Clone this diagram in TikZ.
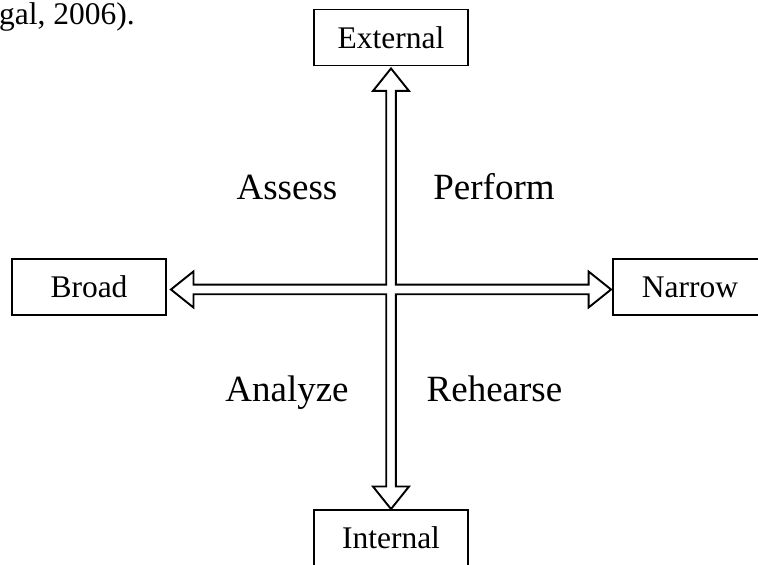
\documentclass[tikz,border=0pt]{standalone}
\usepackage{fontspec}
\setmainfont{Liberation Serif}
\usetikzlibrary{calc}
\begin{document}
\begin{tikzpicture}[x=1pt,y=1pt,
  box/.style={draw, line width=1.9pt, minimum width=154pt, minimum height=56pt,
              inner sep=0pt, font=\fontsize{31.5}{36}\selectfont},
  quad/.style={anchor=base, inner sep=0pt, font=\fontsize{37}{42}\selectfont},
  cross/.style={draw, line width=1.9pt, line join=miter, fill=white}]
  \useasboundingbox (0,0) rectangle (758,565);

  % leftover end of the preceding sentence
  \node[anchor=base west, inner sep=0pt, font=\fontsize{31.5}{36}\selectfont]
    (cite) at (-1,540) {gal, 2006).};

  % the four poles
  \node[box] (ext)    at (391,527.5) {External};
  \node[box] (broad)  at (89,278)    {Broad};
  \node[box] (narrow) at (690,278)   {Narrow};
  \node[box] (int)    at (391,27)    {Internal};

  % centre of the cross and the four arrow tips
  \coordinate (c) at (391,275.5);
  \coordinate (tN) at ($(ext.south)+(0,-2)$);
  \coordinate (tS) at (int.north);
  \coordinate (tW) at ($(broad.east)+(4,-2.5)$);
  \coordinate (tE) at ($(narrow.west)+(-1,-2.5)$);

  % hollow four-way arrow, drawn as one outline
  \draw[cross] (tN) -- ++(18,-22.5) -- ++(-13.2,0)
    -- ($(c)+(4.8,4.8)$) -- ($(tE)+(-22.5,4.8)$) -- ++(0,13.2) -- (tE)
    -- ++(-22.5,-18) -- ++(0,13.2)
    -- ($(c)+(4.8,-4.8)$) -- ($(tS)+(4.8,22.5)$) -- ++(13.2,0) -- (tS)
    -- ++(-18,22.5) -- ++(13.2,0)
    -- ($(c)+(-4.8,-4.8)$) -- ($(tW)+(22.5,-4.8)$) -- ++(0,-13.2) -- (tW)
    -- ++(22.5,18) -- ++(0,-13.2)
    -- ($(c)+(-4.8,4.8)$) -- ($(tN)+(-4.8,-22.5)$) -- ++(-13.2,0) -- cycle;

  % quadrant labels
  \node[quad] (assess)   at (287,365)   {Assess};
  \node[quad] (perform)  at (494,365)   {Perform};
  \node[quad] (analyze)  at (287,163)   {Analyze};
  \node[quad] (rehearse) at (494.5,163) {Rehearse};
\end{tikzpicture}
\end{document}
